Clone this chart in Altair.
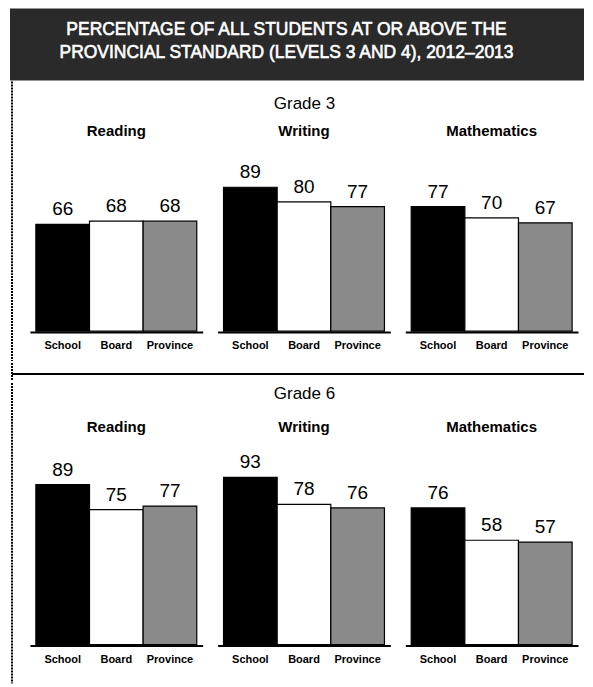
import altair as alt
import pandas as pd

title_lines = ["PERCENTAGE OF ALL STUDENTS AT OR ABOVE THE",
               "PROVINCIAL STANDARD (LEVELS 3 AND 4), 2012\u20132013"]
subjects = ["Reading", "Writing", "Mathematics"]
groups = ["School", "Board", "Province"]
grade3_reading = [66, 68, 68]
grade3_writing = [89, 80, 77]
grade3_math = [77, 70, 67]
grade6_reading = [89, 75, 77]
grade6_writing = [93, 78, 76]
grade6_math = [76, 58, 57]
bar_colors = ["#000000", "#ffffff", "#8a8a8a"]

FONT = "Liberation Sans"
PANEL_W = 173
TOTAL_W = 575


def frame(vals_by_subject):
    rows = []
    for s, vals in zip(subjects, vals_by_subject):
        for g, v in zip(groups, vals):
            rows.append({"subject": s, "group": g, "value": v})
    return pd.DataFrame(rows)


def one():
    return pd.DataFrame({"k": [0]})


def grade_row(df, grade_title, height, ymax, label_pad, title_pad):
    base = alt.Chart().encode(
        x=alt.X("group:N", sort=groups,
                scale=alt.Scale(paddingInner=0, paddingOuter=0.11),
                axis=alt.Axis(title=None, ticks=False, labelAngle=0, labelFont=FONT,
                              labelFontSize=11, labelFontWeight="bold", labelColor="black",
                              labelPadding=8, domainColor="black", domainWidth=2)),
        y=alt.Y("value:Q", scale=alt.Scale(domain=[0, ymax]), axis=None),
    )
    bars = base.mark_bar(stroke="black", strokeWidth=1.2).encode(
        color=alt.Color("group:N", sort=groups,
                        scale=alt.Scale(domain=groups, range=bar_colors), legend=None))
    labels = base.mark_text(baseline="bottom", dy=-5, font=FONT, fontSize=19,
                            color="black").encode(text="value:Q")
    return alt.layer(bars, labels, data=df).properties(width=PANEL_W, height=height).facet(
        column=alt.Column("subject:N", sort=subjects, title=grade_title,
                          header=alt.Header(labelFont=FONT, labelFontSize=15,
                                            labelFontWeight="bold", labelColor="black",
                                            labelPadding=label_pad, titleFont=FONT,
                                            titleFontSize=17, titleFontWeight="normal",
                                            titleColor="black", titlePadding=title_pad)),
        spacing=15)


def gap(h):
    return alt.Chart(one()).mark_rule(opacity=0).encode(
        x=alt.value(0), y=alt.value(0)).properties(width=10, height=h)


def left_rule(h):
    return alt.Chart(one()).mark_rule(color="black", strokeWidth=2, strokeDash=[2, 1]).encode(
        x=alt.value(2), y=alt.value(0), y2=alt.value(h)).properties(width=4, height=h)


def separator(h, at):
    vert = alt.Chart(one()).mark_rule(color="black", strokeWidth=2, strokeDash=[2, 1]).encode(
        x=alt.value(2), y=alt.value(0), y2=alt.value(h))
    horiz = alt.Chart(one()).mark_rule(color="black", strokeWidth=2).encode(
        x=alt.value(2), x2=alt.value(TOTAL_W), y=alt.value(at))
    return alt.layer(vert, horiz).properties(width=TOTAL_W, height=h)


banner = alt.Chart(pd.DataFrame({"line": [0, 1], "text": title_lines})).mark_text(
    font=FONT, fontSize=17.5, color="white", stroke="white", strokeWidth=0.6,
    baseline="middle", dy=-3).encode(
    y=alt.Y("line:O", axis=None, scale=alt.Scale(padding=1.395)),
    x=alt.value(277),
    text="text:N",
).properties(width=TOTAL_W, height=72, view=alt.ViewBackground(fill="#2a2a2a"))

row3 = grade_row(frame([grade3_reading, grade3_writing, grade3_math]), "Grade 3", 178, 110, 14, 1)
row6 = grade_row(frame([grade6_reading, grade6_writing, grade6_math]), "Grade 6", 198, 110, 12, 7)

block3 = alt.hconcat(left_rule(280), alt.vconcat(gap(14), row3, spacing=0), spacing=16)
block6 = alt.hconcat(left_rule(301), alt.vconcat(gap(2), row6, spacing=0), spacing=16)

chart = alt.vconcat(banner, block3, separator(18, 11), block6, spacing=0).properties(
    padding={"left": 2, "top": 0, "right": 0, "bottom": 0}
).configure_view(strokeWidth=0).configure_concat(spacing=0)

chart.save("out.html", embed_options={"renderer": "svg", "actions": False})
